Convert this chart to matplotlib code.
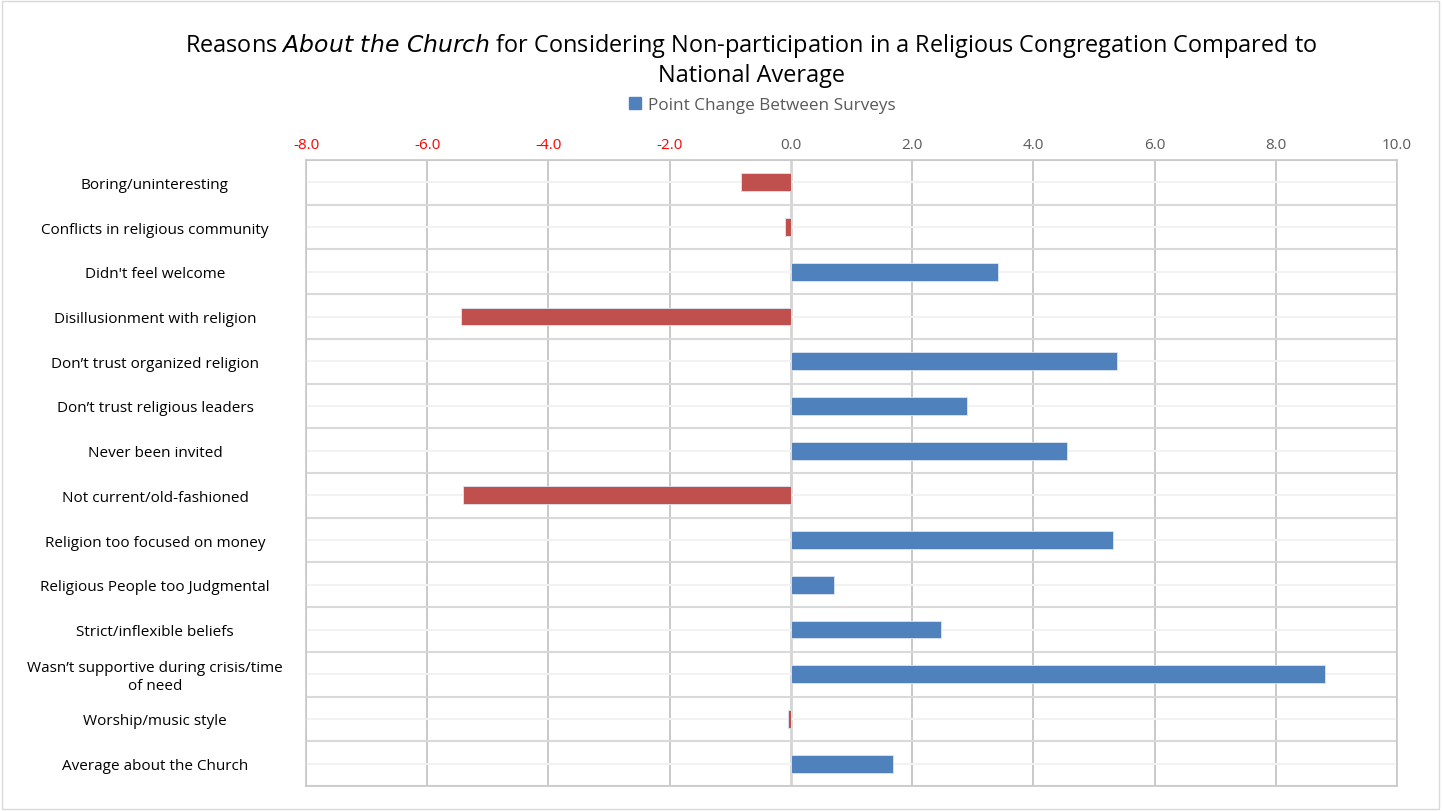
import matplotlib
matplotlib.use("Agg")
import matplotlib.pyplot as plt
from matplotlib.patches import Rectangle, Patch
import numpy as np

categories = [
    "Boring/uninteresting",
    "Conflicts in religious community",
    "Didn't feel welcome",
    "Disillusionment with religion",
    "Don\u2019t trust organized religion",
    "Don\u2019t trust religious leaders",
    "Never been invited",
    "Not current/old-fashioned",
    "Religion too focused on money",
    "Religious People too Judgmental",
    "Strict/inflexible beliefs",
    "Wasn\u2019t supportive during crisis/time\nof need",
    "Worship/music style",
    "Average about the Church",
]
values = [-0.82, -0.09, 3.41, -5.45, 5.38, 2.91, 4.55, -5.41, 5.32, 0.71, 2.48, 8.81, -0.05, 1.68]
xticks = [-8, -6, -4, -2, 0, 2, 4, 6, 8, 10]
title_line1 = "Reasons $\\it{About\\ the\\ Church}$ for Considering Non-participation in a Religious Congregation Compared to"
series_name = "Point Change Between Surveys"

BLUE = "#4f81bd"
RED = "#c0504d"
FONT = ["Open Sans", "DejaVu Sans"]
plt.rcParams["font.family"] = FONT

fig = plt.figure(figsize=(14.43, 8.12), dpi=100)
W, H = 1443, 812
L, R, T, B = 306, 1397, 161, 787
ax = fig.add_axes([L / W, 1 - B / H, (R - L) / W, (B - T) / H])

n = len(categories)
y = np.arange(n)
colors = [RED if v < 0 else BLUE for v in values]
ax.barh(y, values, height=0.4, color=colors, edgecolor="#dce6f2", linewidth=0.6, zorder=3)

ax.set_ylim(n - 0.5, -0.5)
ax.set_xlim(-8, 10)
ax.set_xticks(xticks)
ax.xaxis.tick_top()
ax.set_xticklabels([f"{t:.1f}" for t in xticks], fontsize=11)
for lbl, t in zip(ax.get_xticklabels(), xticks):
    lbl.set_color("#ff0000" if t < 0 else "#595959")
ax.tick_params(axis="x", length=0, pad=6)
ax.set_yticks([])

# gridlines
for t in xticks:
    ax.axvline(t, color="#c0c0c0" if t != 0 else "#d4d4d4", lw=1.2 if t != 0 else 2.0, zorder=1)
for i in range(n + 1):
    ax.axhline(i - 0.5, color="#d9d9d9", lw=1.5, zorder=1)
for i in range(n):
    ax.axhline(i, color="#f2f2f2", lw=1.5, zorder=1)
for s in ax.spines.values():
    s.set_color("#c8c8c8")
    s.set_linewidth(1.2)

# category labels
for i, c in enumerate(categories):
    yy = ax.transData.transform((0, i))[1] - 2
    fig.text(155 / W, yy / H, c, ha="center", va="center", fontsize=11, color="#000000",
             linespacing=1.3)

fig.text(751 / W, 1 - 46 / H, title_line1, ha="center", va="center", fontsize=16.9, color="#000000")
fig.text(751 / W, 1 - 76 / H, "National Average", ha="center", va="center", fontsize=16.9, color="#000000")

fig.legend(handles=[Patch(facecolor=BLUE, edgecolor=BLUE)], labels=[series_name],
           loc="center", bbox_to_anchor=(762 / W, 1 - 106 / H), frameon=False,
           fontsize=12.3, handlelength=0.7, handleheight=0.7, handletextpad=0.4,
           labelcolor="#595959")

fig.patches.append(Rectangle((2 / W, 2 / H), 1 - 6 / W, 1 - 4 / H, transform=fig.transFigure,
                             fill=False, edgecolor="#d9d9d9", lw=1))

fig.savefig("out.png", dpi=100)
